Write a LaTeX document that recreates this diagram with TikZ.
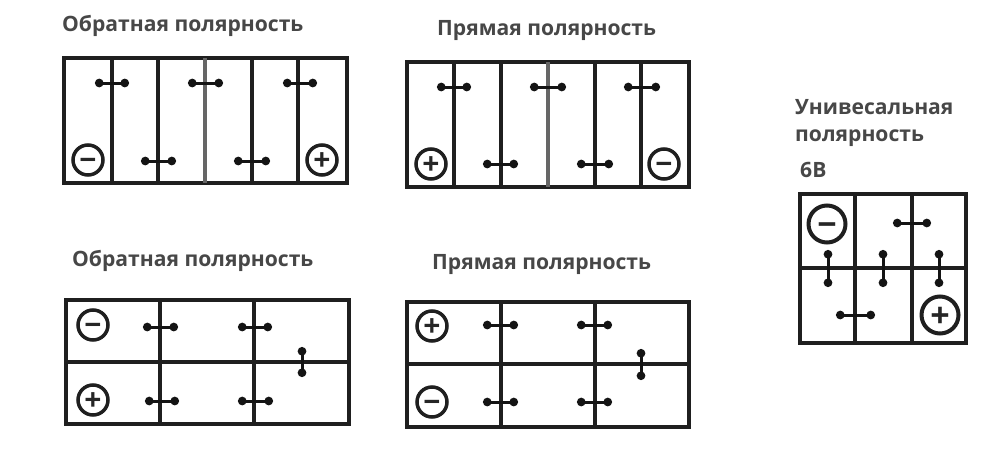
\documentclass[tikz,border=0pt]{standalone}
\usepackage{fontspec}
\setmainfont{Open Sans}
\usetikzlibrary{arrows.meta}
\tikzset{
    caseline/.style={draw=black!88, line width=3.4pt},
    greyline/.style={draw=black!60, line width=3.4pt},
    strap/.style={draw=black!92, line width=3pt, {Circle[length=8.5pt]}-{Circle[length=8.5pt]}, shorten >=-2pt, shorten <=-2pt},
    title/.style={anchor=west, inner sep=0pt, text=black!72, font=\fontsize{21.1}{24}\selectfont\bfseries},
    pole/.style={circle, draw=black!88, line width=3.5pt, minimum size=30pt, inner sep=0pt, text=black!85, text height=21.4pt, text depth=0pt, font=\fontsize{30}{30}\selectfont\bfseries},
    bigpole/.style={pole, minimum size=37pt, line width=4pt, text height=24.3pt, font=\fontsize{34}{34}\selectfont\bfseries}
}
\begin{document}
\begin{tikzpicture}[x=1pt, y=-1pt]
    \useasboundingbox (0,0) rectangle (1000,455);
    % top left
    \node[title] (titleA) at (62,26) {Обратная полярность};
    \draw[caseline] (64,58) rectangle (347,183);
    \draw[caseline] (112,58) -- (112,183); \draw[caseline] (158,58) -- (158,183);
    \draw[greyline] (205,58) -- (205,183);
    \draw[caseline] (252,58) -- (252,183); \draw[caseline] (298,58) -- (298,183);
    \coordinate (a1) at (97,83); \coordinate (a2) at (127,83); \draw[strap] (a1) -- (a2);
    \coordinate (a3) at (190,83); \coordinate (a4) at (221,83); \draw[strap] (a3) -- (a4);
    \coordinate (a5) at (285,83); \coordinate (a6) at (315,83); \draw[strap] (a5) -- (a6);
    \coordinate (a7) at (143,161); \coordinate (a8) at (174,161); \draw[strap] (a7) -- (a8);
    \coordinate (a9) at (236,161); \coordinate (a10) at (268,161); \draw[strap] (a9) -- (a10);
    \node[pole] (minusA) at (88,160) {−};
    \node[pole] (plusA) at (322,160) {+};
    % top middle
    \node[title] (titleB) at (437,31) {Прямая полярность};
    \draw[caseline] (407,62) rectangle (689,187);
    \draw[caseline] (454,62) -- (454,187); \draw[caseline] (501,62) -- (501,187);
    \draw[greyline] (548,62) -- (548,187);
    \draw[caseline] (595,62) -- (595,187); \draw[caseline] (641,62) -- (641,187);
    \coordinate (b1) at (439,87); \coordinate (b2) at (469,87); \draw[strap] (b1) -- (b2);
    \coordinate (b3) at (532,87); \coordinate (b4) at (564,87); \draw[strap] (b3) -- (b4);
    \coordinate (b5) at (626,87); \coordinate (b6) at (658,87); \draw[strap] (b5) -- (b6);
    \coordinate (b7) at (485,164); \coordinate (b8) at (516,164); \draw[strap] (b7) -- (b8);
    \coordinate (b9) at (579,164); \coordinate (b10) at (611,164); \draw[strap] (b9) -- (b10);
    \node[pole] (plusB) at (431,164) {+};
    \node[pole] (minusB) at (664,164) {−};
    % bottom left
    \node[title] (titleC) at (72,261) {Обратная полярность};
    \draw[caseline] (66,300) rectangle (349,424);
    \draw[caseline] (66,362) -- (349,362);
    \draw[caseline] (160,300) -- (160,424); \draw[caseline] (254,300) -- (254,424);
    \coordinate (c1) at (145,327); \coordinate (c2) at (176,327); \draw[strap] (c1) -- (c2);
    \coordinate (c3) at (240,327); \coordinate (c4) at (270,327); \draw[strap] (c3) -- (c4);
    \coordinate (c5) at (147,401); \coordinate (c6) at (177,401); \draw[strap] (c5) -- (c6);
    \coordinate (c7) at (240,401); \coordinate (c8) at (271,401); \draw[strap] (c7) -- (c8);
    \coordinate (c9) at (302,349); \coordinate (c10) at (302,375); \draw[strap] (c9) -- (c10);
    \node[pole] (minusC) at (93,325) {−};
    \node[pole] (plusC) at (93,400) {+};
    % bottom middle
    \node[title] (titleD) at (432,264) {Прямая полярность};
    \draw[caseline] (407,302) rectangle (689,427);
    \draw[caseline] (407,364) -- (689,364);
    \draw[caseline] (501,302) -- (501,427); \draw[caseline] (595,302) -- (595,427);
    \coordinate (d1) at (485,325); \coordinate (d2) at (516,325); \draw[strap] (d1) -- (d2);
    \coordinate (d3) at (579,325); \coordinate (d4) at (610,325); \draw[strap] (d3) -- (d4);
    \coordinate (d5) at (485,402); \coordinate (d6) at (516,402); \draw[strap] (d5) -- (d6);
    \coordinate (d7) at (579,402); \coordinate (d8) at (610,402); \draw[strap] (d7) -- (d8);
    \coordinate (d9) at (641,351); \coordinate (d10) at (641,378); \draw[strap] (d9) -- (d10);
    \node[pole] (plusD) at (432,326) {+};
    \node[pole] (minusD) at (432,402) {−};
    % right
    \node[title] (titleE) at (795,107) {Унивесальная};
    \node[title] (titleF) at (795,138) {полярность};
    \node[title] (titleG) at (800,170) {6В};
    \draw[caseline] (800,194) rectangle (966,343);
    \draw[caseline] (800,268) -- (966,268);
    \draw[caseline] (855,194) -- (855,343); \draw[caseline] (912,194) -- (912,343);
    \coordinate (e1) at (895,223); \coordinate (e2) at (929,223); \draw[strap] (e1) -- (e2);
    \coordinate (e3) at (838,315); \coordinate (e4) at (873,315); \draw[strap] (e3) -- (e4);
    \coordinate (e5) at (828,252); \coordinate (e6) at (828,285); \draw[strap] (e5) -- (e6);
    \coordinate (e7) at (883,252); \coordinate (e8) at (883,285); \draw[strap] (e7) -- (e8);
    \coordinate (e9) at (939,252); \coordinate (e10) at (939,285); \draw[strap] (e9) -- (e10);
    \node[bigpole] (minusE) at (827,224) {−};
    \node[bigpole] (plusE) at (940,315) {+};
\end{tikzpicture}
\end{document}
